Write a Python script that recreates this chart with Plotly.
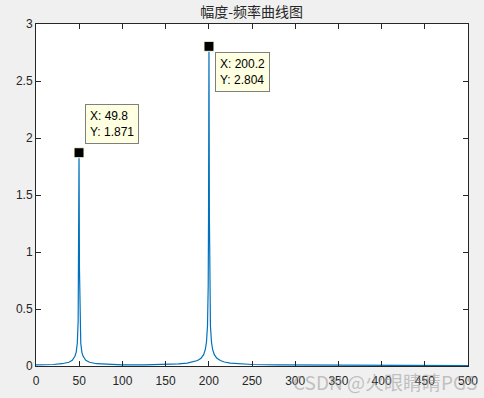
import plotly.graph_objects as go

# Spectrum magnitude
freq = [0, 10, 20, 30, 38, 42, 45, 46.5, 47.8, 48.8, 49.3, 49.8, 50.3, 50.8, 51.8, 53.1,
        54.6, 57.6, 62, 70, 85, 100, 125, 150, 165, 175, 182, 187, 191, 194, 196, 197.3,
        198.5, 199.3, 199.7, 200.2, 200.7, 201.1, 201.9, 203.1, 204.4, 206.4, 209.4,
        213.4, 218, 225, 235, 250, 280, 320, 380, 440, 500]
amp = [0.010, 0.010, 0.013, 0.020, 0.033, 0.050, 0.085, 0.12, 0.20, 0.40, 0.85, 1.871,
       0.85, 0.40, 0.20, 0.12, 0.085, 0.050, 0.033, 0.020, 0.013, 0.010, 0.010, 0.013,
       0.018, 0.025, 0.035, 0.048, 0.068, 0.10, 0.145, 0.21, 0.35, 0.70, 1.30, 2.804,
       1.30, 0.70, 0.35, 0.21, 0.145, 0.10, 0.068, 0.048, 0.035, 0.025, 0.018, 0.013,
       0.009, 0.007, 0.005, 0.004, 0.003]

peak_x = [49.8, 200.2]
peak_y = [1.871, 2.804]

x_ticks = [0, 50, 100, 150, 200, 250, 300, 350, 400, 450, 500]
y_ticks = [0, 0.5, 1, 1.5, 2, 2.5, 3]

title_text = "幅度-频率曲线图"
watermark = "CSDN @火眼睛睛PGS"

fig = go.Figure()
fig.add_trace(go.Scatter(x=freq, y=amp, mode="lines",
                         line=dict(color="#0072BD", width=1.2), hoverinfo="skip"))
fig.add_trace(go.Scatter(x=peak_x, y=peak_y, mode="markers",
                         marker=dict(symbol="square", size=10, color="black",
                                     line=dict(color="#fffbe0", width=1)),
                         hoverinfo="skip"))

offsets = [(6, 49), (6, -6)]
for (px, py), (dx, dy) in zip(zip(peak_x, peak_y), offsets):
    fig.add_annotation(x=px, y=py, xref="x", yref="y",
                       text=f"X: {px}<br>Y: {py}", showarrow=False,
                       xanchor="left", yanchor="top", xshift=dx, yshift=dy,
                       align="left", bgcolor="#ffffe1", bordercolor="#7f7f7f",
                       borderwidth=1, borderpad=4,
                       font=dict(family="Liberation Sans, Arial", size=12, color="#000000"))

fig.add_annotation(text=watermark, xref="paper", yref="paper", x=1.025, y=-0.045,
                   xanchor="right", yanchor="middle", showarrow=False,
                   font=dict(family="Noto Sans CJK SC", size=19, color="rgba(150,150,150,0.55)"))

fig.update_layout(
    width=484, height=398,
    margin=dict(l=36, r=16, t=24, b=32, autoexpand=False),
    paper_bgcolor="#f0f0f0", plot_bgcolor="white",
    showlegend=False,
    title=dict(text=title_text, x=0.52, xanchor="center", y=0.97, yanchor="middle",
               font=dict(family="Noto Sans CJK SC", size=14, color="#262626")),
    font=dict(family="Liberation Sans, Arial", size=12, color="#262626"),
)
fig.update_xaxes(range=[0, 500], tickvals=x_ticks, ticktext=[str(v) for v in x_ticks],
                 showgrid=False, zeroline=False, showline=True, mirror="ticks",
                 linecolor="#262626", linewidth=1, ticks="inside", ticklen=5,
                 tickcolor="#262626", automargin=False, ticklabelstandoff=4)
fig.update_yaxes(range=[0, 3], tickvals=y_ticks, ticktext=[str(v) for v in y_ticks],
                 showgrid=False, zeroline=False, showline=True, mirror="ticks",
                 linecolor="#262626", linewidth=1, ticks="inside", ticklen=5,
                 tickcolor="#262626", automargin=False)

fig.write_html("out.html")
